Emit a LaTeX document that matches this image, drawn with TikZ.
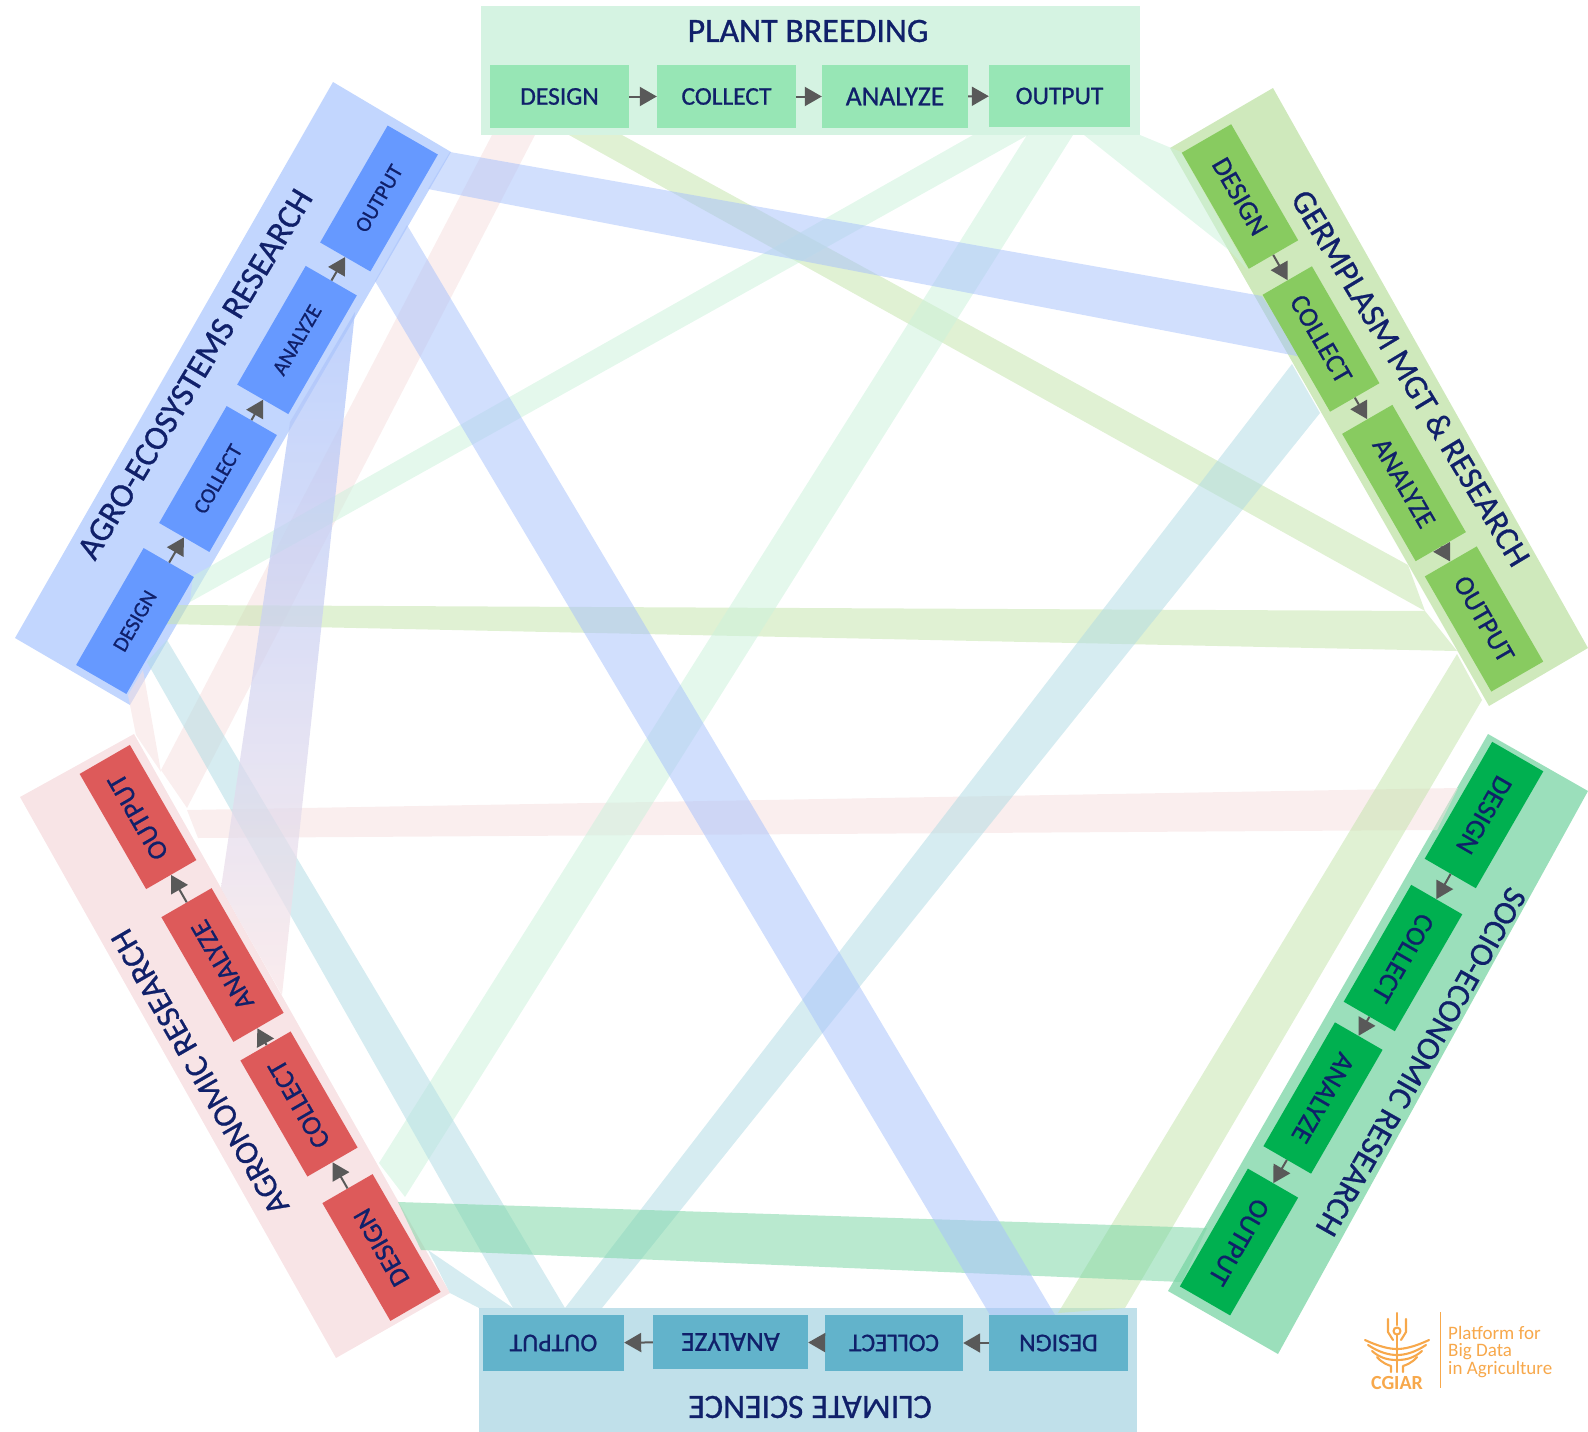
\documentclass[tikz,border=0pt]{standalone}
\usepackage{fontspec}
\setmainfont{Carlito}
\newfontfamily\heavyfont[FakeBold=0.8]{Carlito}
\usetikzlibrary{arrows.meta}
\definecolor{navy}{HTML}{10206A}
\definecolor{arrowgrey}{HTML}{595959}
\definecolor{orangelogo}{HTML}{F7A84B}
\definecolor{pPlant}{HTML}{D5F3E2}\definecolor{bPlant}{HTML}{97E6B5}
\definecolor{pGerm}{HTML}{CFE9BC}\definecolor{bGerm}{HTML}{88CB60}
\definecolor{pSocio}{HTML}{9BDFBB}\definecolor{bSocio}{HTML}{00B050}
\definecolor{pClim}{HTML}{C0E0EA}\definecolor{bClim}{HTML}{62B3CB}
\definecolor{pAgron}{HTML}{F8E4E6}\definecolor{bAgron}{HTML}{DD5A5A}
\definecolor{pAgro}{HTML}{C2D6FE}\definecolor{bAgro}{HTML}{6699FF}
\definecolor{bandPink}{RGB}{245,223,223}
\definecolor{bandLeaf}{RGB}{196,228,172}
\definecolor{bandMint}{RGB}{204,242,220}
\definecolor{bandTeal}{RGB}{178,220,228}
\definecolor{bandBlue}{RGB}{168,194,252}
\definecolor{bandDeep}{RGB}{122,214,165}
\tikzset{
  band/.style={fill opacity=.53,draw=none},
  stage/.style={inner sep=0pt,text=navy,align=center},
  stagebig/.style={stage,font=\heavyfont\fontsize{27.5}{28}\selectfont},
  stagemid/.style={stage,font=\heavyfont\fontsize{25.5}{26}\selectfont},
  stagewide/.style={stage,font=\heavyfont\fontsize{27.5}{29}\selectfont},
  stagesmall/.style={stage,font=\heavyfont\fontsize{21.5}{23}\selectfont},
  title/.style={inner sep=0pt,text=navy,font=\heavyfont\fontsize{34}{35}\selectfont},
  flow/.style={arrowgrey,line width=2pt,-{Triangle[length=17pt,width=19pt]}},
  logoline/.style={orangelogo,line width=2.1pt,line cap=round,line join=round},
  logotext/.style={inner sep=0pt,text=orangelogo,anchor=west,font=\fontsize{19}{20}\selectfont}
}
\begin{document}
\begin{tikzpicture}[x=1pt,y=-1pt]
\useasboundingbox (0,0) rectangle (1588,1432);
% panels
\fill[pPlant] (481,6) rectangle (1140,135);
\fill[pClim] (479,1308) rectangle (1137,1432);
\fill[pAgro] (333,82) -- (451,152) -- (130,705) -- (15,638) -- cycle;
\fill[pGerm] (1170,148) -- (1273,88) -- (1588,648) -- (1489,706) -- cycle;
\fill[pSocio] (1488,734) -- (1588,791) -- (1278,1354) -- (1168,1291) -- cycle;
\fill[pAgron] (20,797) -- (134,734) -- (450,1293) -- (336,1358) -- cycle;
% bands
\fill[band,bandPink] (492,135) -- (535,135) -- (187,808) -- (161,770) -- cycle;
\fill[band,bandPink] (128,695) -- (143,670) -- (161,772) -- (136,735) -- cycle;
\fill[band,bandPink] (187,810) -- (1458,788) -- (1437,830) -- (198,838) -- cycle;
\fill[band,bandLeaf] (569,135) -- (622,135) -- (1408,565) -- (1425,611) -- cycle;
\fill[band,bandLeaf] (177,605) -- (1425,611) -- (1457,651) -- (165,624) -- cycle;
\fill[band,bandLeaf] (1457,654) -- (1482,700) -- (1125,1308) -- (1058,1313) -- cycle;
\fill[band,bandMint] (973,135) -- (1028,135) -- (190,602) -- (193,576) -- cycle;
\fill[band,bandMint] (1027,135) -- (1073,135) -- (405,1197) -- (379,1163) -- cycle;
\fill[band,bandMint] (1084,135) -- (1140,135) -- (1181,152) -- (1248,270) -- (1230,251) -- cycle;
\fill[band,bandTeal] (167,640) -- (565,1308) -- (513,1308) -- (147,662) -- cycle;
\fill[band,bandTeal] (428,1250) -- (513,1308) -- (479,1308) -- (450,1293) -- cycle;
\fill[band,bandTeal] (1292,364) -- (1320,413) -- (602,1308) -- (565,1308) -- cycle;
\fill[band,bandDeep] (398,1202) -- (1207,1228) -- (1182,1282) -- (421,1250) -- cycle;
\fill[band,bandBlue] (450,152) -- (1262,296) -- (1302,357) -- (428,189) -- cycle;
\fill[band,bandBlue] (407,225) -- (1055,1315) -- (990,1315) -- (375,281) -- cycle;
\shade[top color=bandBlue,bottom color=pAgron,fill opacity=.72,draw=none]
  (355,312) -- (282,995) -- (221,888) -- (290,422) -- cycle;
% stage boxes
\node[stagemid,fill=bPlant,minimum width=139pt,minimum height=63pt] (pd) at (559.5,96.5) {DESIGN};
\node[stagemid,fill=bPlant,minimum width=139pt,minimum height=63pt] (pc) at (726.5,96.5) {COLLECT};
\node[stagewide,fill=bPlant,minimum width=146pt,minimum height=63pt] (pa) at (895,96.5) {ANALYZE};
\node[stagemid,fill=bPlant,minimum width=141pt,minimum height=62pt] (po) at (1059.5,96) {OUTPUT};
\node[stagemid,fill=bClim,rotate=180,minimum width=139pt,minimum height=56pt] (cd) at (1058.5,1343) {DESIGN};
\node[stagemid,fill=bClim,rotate=180,minimum width=138pt,minimum height=56pt] (cc) at (894,1343) {COLLECT};
\node[stagewide,fill=bClim,rotate=180,minimum width=155pt,minimum height=54pt] (ca) at (730.5,1342) {ANALYZE};
\node[stagemid,fill=bClim,rotate=180,minimum width=141pt,minimum height=56pt] (co) at (553.5,1343) {OUTPUT};
\node[stagesmall,fill=bAgro,rotate=60,minimum width=135pt,minimum height=58pt] (ad) at (135,621) {DESIGN};
\node[stagesmall,fill=bAgro,rotate=60,minimum width=135pt,minimum height=58pt] (ac) at (218,479) {COLLECT};
\node[stagesmall,fill=bAgro,rotate=60,minimum width=137pt,minimum height=59pt] (aa) at (297,340) {ANALYZE};
\node[stagesmall,fill=bAgro,rotate=60,minimum width=135pt,minimum height=58pt] (ao) at (379,198.5) {OUTPUT};
\node[stagebig,fill=bGerm,rotate=-60,minimum width=134pt,minimum height=57pt] (gd) at (1240,196.5) {DESIGN};
\node[stagebig,fill=bGerm,rotate=-60,minimum width=135pt,minimum height=57pt] (gc) at (1321,339) {COLLECT};
\node[stagebig,fill=bGerm,rotate=-60,minimum width=147pt,minimum height=58pt] (ga) at (1404,483) {ANALYZE};
\node[stagebig,fill=bGerm,rotate=-60,minimum width=133pt,minimum height=60pt] (go) at (1484,619) {OUTPUT};
\node[stagebig,fill=bSocio,rotate=-120,minimum width=135pt,minimum height=59pt] (sd) at (1484,815) {DESIGN};
\node[stagebig,fill=bSocio,rotate=-120,minimum width=135pt,minimum height=59pt] (sc) at (1403,958) {COLLECT};
\node[stagebig,fill=bSocio,rotate=-120,minimum width=143pt,minimum height=55pt] (sa) at (1323,1098) {ANALYZE};
\node[stagebig,fill=bSocio,rotate=-120,minimum width=136pt,minimum height=58pt] (so) at (1239,1242) {OUTPUT};
\node[stagebig,fill=bAgron,rotate=120,minimum width=136pt,minimum height=58pt] (rd) at (381.5,1247.5) {DESIGN};
\node[stagebig,fill=bAgron,rotate=120,minimum width=134pt,minimum height=58pt] (rc) at (299,1104) {COLLECT};
\node[stagebig,fill=bAgron,rotate=120,minimum width=144pt,minimum height=58pt] (ra) at (222.5,965) {ANALYZE};
\node[stagebig,fill=bAgron,rotate=120,minimum width=133pt,minimum height=58pt] (ro) at (138,817) {OUTPUT};
% arrows
\foreach \a/\b in {pd/pc,pc/pa,pa/po,cd/cc,cc/ca,ca/co,ad/ac,ac/aa,aa/ao,gd/gc,gc/ga,ga/go,sd/sc,sc/sa,sa/so,rd/rc,rc/ra,ra/ro}
  \draw[flow] (\a) -- (\b);
% titles
\node[title] (tp) at (808,31) {PLANT BREEDING};
\node[title,rotate=180] (tc) at (810,1407) {CLIMATE SCIENCE};
\node[title,rotate=59] (ta) at (195,374) {AGRO-ECOSYSTEMS RESEARCH};
\node[title,rotate=-59,font=\heavyfont\fontsize{33.5}{35}\selectfont] (tg) at (1411,378) {GERMPLASM MGT \& RESEARCH};
\node[title,rotate=-119.5,font=\heavyfont\fontsize{33}{35}\selectfont] (ts) at (1421,1062) {SOCIO-ECONOMIC RESEARCH};
\node[title,rotate=120,font=\heavyfont\fontsize{33}{34}\selectfont] (tr) at (200,1072) {AGRONOMIC RESEARCH};
% logo
\draw[orangelogo,line width=1pt] (1440,1312) -- (1440,1388);
\begin{scope}[logoline]
\draw (1397,1313) -- (1397,1325);
\draw (1388,1319) -- (1388,1332) -- (1393,1340);
\draw (1406,1319) -- (1406,1332) -- (1401,1340);
\draw (1397,1331) circle (3.5);
\draw (1397,1335) -- (1397,1372);
\draw (1365,1340) .. controls (1380,1347) and (1390,1349) .. (1397,1349) .. controls (1404,1349) and (1414,1347) .. (1429,1340);
\draw (1368,1345) .. controls (1380,1353) and (1390,1355) .. (1397,1355) .. controls (1404,1355) and (1414,1353) .. (1426,1345);
\draw (1372,1351) .. controls (1380,1358) and (1388,1360) .. (1397,1360) .. controls (1406,1360) and (1414,1358) .. (1422,1351);
\draw (1377,1357) .. controls (1382,1363) and (1388,1365) .. (1391,1366) -- (1391,1372);
\draw (1417,1357) .. controls (1412,1363) and (1406,1365) .. (1403,1366) -- (1403,1372);
\end{scope}
\node[inner sep=0pt,text=orangelogo,font=\fontsize{20}{21}\selectfont\bfseries] (lc) at (1397,1383) {CGIAR};
\node[logotext] (l1) at (1448,1333) {Platform for};
\node[logotext] (l2) at (1448,1352) {Big Data};
\node[logotext] (l3) at (1448,1370) {in Agriculture};
\end{tikzpicture}
\end{document}
